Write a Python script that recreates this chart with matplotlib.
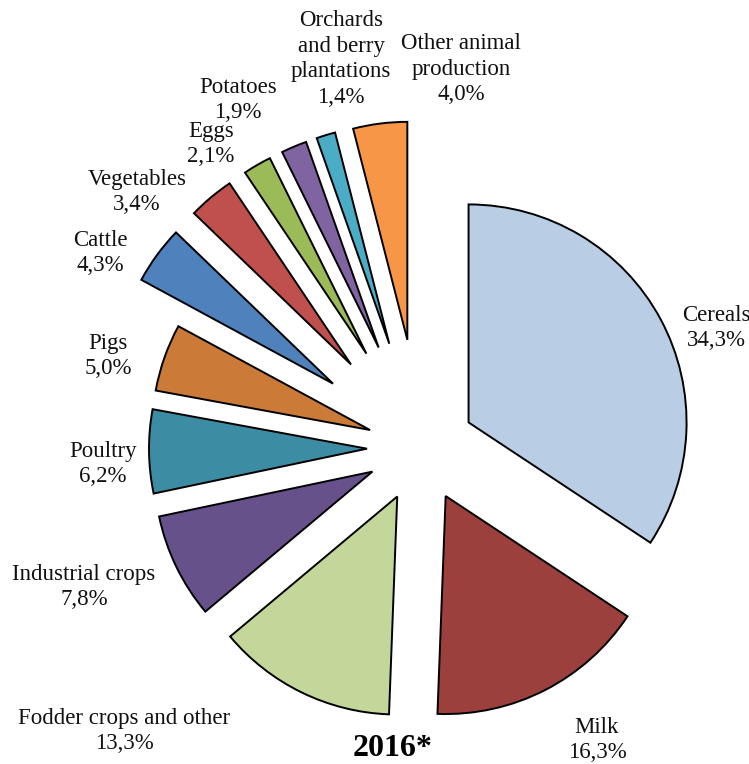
import matplotlib
matplotlib.use("Agg")
import matplotlib.pyplot as plt

# ── data (share of output, %) ───────────────────────────────────────────────
categories = [
    "Cereals", "Milk", "Fodder crops and other", "Industrial crops",
    "Poultry", "Pigs", "Cattle", "Vegetables", "Eggs", "Potatoes",
    "Orchards\nand berry\nplantations", "Other animal\nproduction",
]
shares = [34.3, 16.3, 13.3, 7.8, 6.2, 5.0, 4.3, 3.4, 2.1, 1.9, 1.4, 4.0]
year_label = "2016*"

# ── styling ────────────────────────────────────────────────────────────────
colours = [
    "#B9CDE5", "#9C403E", "#C4D79B", "#67518A", "#3C8CA3", "#CC7A38",
    "#4F81BD", "#C0504D", "#9BBB59", "#8064A2", "#4BACC6", "#F79646",
]
# explode is in data units here (axes are laid out in pixels)
explode = [54] * 6 + [109] * 6

# label centres in pixel space (x right, y down from top)
label_pos = [
    (716, 328), (597, 740), (124, 731), (84, 587), (103, 464), (108, 356),
    (100, 253), (137, 192), (211, 144), (238, 100), (341, 59), (461, 69),
]

W, H = 749, 764
plt.rcParams["font.family"] = ["Liberation Serif", "DejaVu Serif"]

fig = plt.figure(figsize=(W / 100, H / 100), dpi=100)
ax = fig.add_axes([0, 0, 1, 1])

ax.pie(
    shares, explode=explode, colors=colours, startangle=90,
    counterclock=False, radius=218, center=(421, H - 448),
    wedgeprops=dict(edgecolor="black", linewidth=1.4),
    frame=True,
)
ax.set_xlim(0, W)
ax.set_ylim(0, H)
ax.set_aspect("equal")
ax.axis("off")

for name, val, (x, y) in zip(categories, shares, label_pos):
    txt = f"{name}\n{val:.1f}%".replace(".", ",")
    ax.text(x, H - y, txt, ha="center", va="center", fontsize=16.5,
            linespacing=1.3, color="#111111")

ax.text(393, H - 748, year_label, ha="center", va="center",
        fontsize=23, fontweight="bold")

fig.savefig("out.png", dpi=100)
